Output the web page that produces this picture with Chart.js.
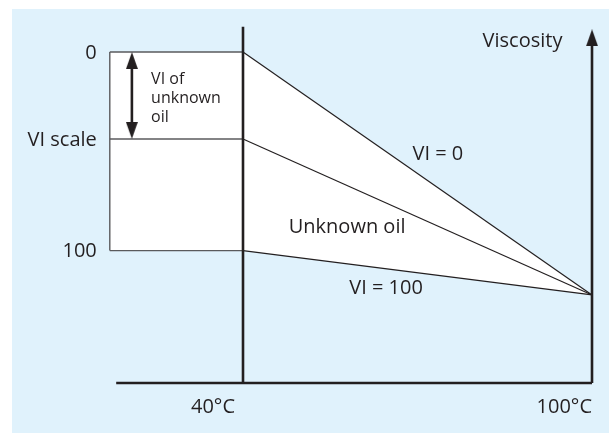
<!DOCTYPE html>
<html>
<head>
<meta charset="utf-8">
<script src="https://cdn.jsdelivr.net/npm/chart.js@4"></script>
<style>
  body { margin: 0; background: #ffffff; }
  #panel { position: absolute; left: 12px; top: 9px; width: 597px; height: 424px; background: #e0f2fc; }
</style>
</head>
<body>
<div id="panel"><canvas id="myChart" width="597" height="424"></canvas></div>
<script>
'use strict';

//data
let temps = [40, 100];
let vi0 = [100, 26.6];
let unknownOil = [73.7, 26.6];
let vi100 = [40, 26.6];
let viTicks = ['0', 'VI scale', '100'];
let viTickValues = [100, 73.7, 40];
let tempLabels = ['40°C', '100°C'];

//layout bits
let boxLeft = 17.1;
let axisStart = 18.2;
let axisTop = 107.6;
let arrowX = 20.9;
let ink = '#231f20';
let boxInk = '#5a5a5c';
let font = '"Open Sans", sans-serif';

//arrow head drawn once and used as a point style
function makeHead(){
  let c = document.createElement('canvas');
  c.width = 12;
  c.height = 17;
  let g = c.getContext('2d');
  g.fillStyle = ink;
  g.beginPath();
  g.moveTo(6, 0);
  g.lineTo(12, 17);
  g.lineTo(0, 17);
  g.closePath();
  g.fill();
  return c;
}
let head = makeHead();

function pts(xs, ys){
  let out = [];
  for(let i = 0; i < xs.length; i++){
    out.push({x: xs[i], y: ys[i]});
  }
  return out;
}

//VI lines start at the box edge
let vi0Line = pts([boxLeft].concat(temps), [vi0[0]].concat(vi0));
let unknownLine = pts([boxLeft].concat(temps), [unknownOil[0]].concat(unknownOil));
let vi100Line = pts([boxLeft].concat(temps), [vi100[0]].concat(vi100));

let boxSeg = {
  borderColor: ctx => ctx.p0DataIndex === 0 ? boxInk : ink,
  borderWidth: ctx => ctx.p0DataIndex === 0 ? 1.4 : 1.2
};

function plain(data, extra){
  return Object.assign({
    data: data,
    borderColor: ink,
    borderWidth: 2.6,
    pointRadius: 0,
    pointHoverRadius: 0,
    fill: false,
    tension: 0,
    order: 1
  }, extra || {});
}

let datasets = [
  plain(vi0Line, {borderWidth: 1.2, segment: boxSeg, fill: 2, backgroundColor: '#ffffff', order: 9}),
  plain(unknownLine, {borderWidth: 1.2, segment: boxSeg, order: 8}),
  plain(vi100Line, {borderWidth: 1.2, segment: boxSeg, order: 8}),
  plain(pts([boxLeft, boxLeft], [vi0[0], vi100[0]]), {borderColor: boxInk, borderWidth: 1.4, order: 8}),
  //40 C axis
  plain(pts([temps[0], temps[0]], [axisTop, 0])),
  //bottom axis
  plain(pts([axisStart, temps[1]], [0, 0])),
  //viscosity axis with arrow
  plain(pts([temps[1], temps[1]], [0, 103])),
  plain([{x: temps[1], y: 104.3}], {pointRadius: 5, pointStyle: head, showLine: false}),
  //VI of unknown oil arrow
  plain(pts([arrowX, arrowX], [97, 76.6])),
  plain(pts([arrowX, arrowX], [97.4, 76.3]), {pointRadius: 5, pointStyle: head, pointRotation: [0, 180], showLine: false})
];

//text drawn at data positions
let notes = [
  {text: 'Viscosity', x: 88.05, y: 103.2},
  {text: 'VI = 0', x: 73.5, y: 69.2},
  {text: 'Unknown oil', x: 57.9, y: 47.1},
  {text: 'VI = 100', x: 64.6, y: 28.7}
];
let smallNote = {lines: ['VI of', 'unknown', 'oil'], x: 24.2, y: 91.8};

let textPlugin = {
  id: 'texts',
  afterDatasetsDraw(chart){
    let c = chart.ctx;
    let xs = chart.scales.x;
    let ys = chart.scales.y;
    c.save();
    c.fillStyle = ink;
    c.font = '20px ' + font;
    c.textBaseline = 'middle';

    c.textAlign = 'right';
    for(let i = 0; i < viTicks.length; i++){
      c.fillText(viTicks[i], xs.getPixelForValue(boxLeft) - 13, ys.getPixelForValue(viTickValues[i]) + 1);
    }

    let tempShift = [-8, 0];
    for(let i = 0; i < tempLabels.length; i++){
      c.fillText(tempLabels[i], xs.getPixelForValue(temps[i]) + tempShift[i], ys.getPixelForValue(0) + 24);
    }

    c.textAlign = 'center';
    for(let i = 0; i < notes.length; i++){
      c.fillText(notes[i].text, xs.getPixelForValue(notes[i].x), ys.getPixelForValue(notes[i].y));
    }

    c.font = '16px ' + font;
    c.textAlign = 'left';
    for(let i = 0; i < smallNote.lines.length; i++){
      c.fillText(smallNote.lines[i], xs.getPixelForValue(smallNote.x), ys.getPixelForValue(smallNote.y) + i * 19);
    }
    c.restore();
  }
};

const ctx = document.getElementById('myChart');
new Chart(ctx, {
  type: 'line',
  data: {datasets: datasets},
  options: {
    responsive: false,
    animation: false,
    layout: {padding: 8},
    plugins: {
      legend: {display: false},
      tooltip: {enabled: false}
    },
    scales: {
      x: {type: 'linear', display: false, min: 1.662, max: 101.547},
      y: {type: 'linear', display: false, min: -12.69, max: 110.57}
    }
  },
  plugins: [textPlugin]
});
</script>
</body>
</html>
